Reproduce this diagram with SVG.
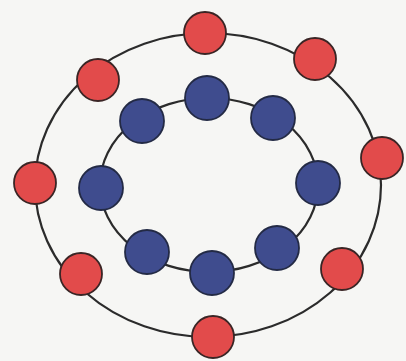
<svg xmlns="http://www.w3.org/2000/svg" width="406" height="361" viewBox="0 0 406 361">
<style>
.ring{fill:none;stroke:#2b2b2b;stroke-width:2.2}
.red{fill:#e24b4b;stroke:#3a2525;stroke-width:1.8}
.blue{fill:#3f4c8e;stroke:#232a45;stroke-width:1.8}
</style>
<rect width="406" height="361" fill="#f6f6f4"/>
<g id="connectors">
<ellipse class="ring" cx="208" cy="185" rx="173" ry="152"/>
<ellipse class="ring" cx="209" cy="185" rx="109" ry="87"/>
</g>
<g id="r1"><circle class="red" cx="205" cy="33" r="21"/></g>
<g id="r2"><circle class="red" cx="315" cy="59" r="21"/></g>
<g id="r3"><circle class="red" cx="382" cy="158" r="21"/></g>
<g id="r4"><circle class="red" cx="342" cy="269" r="21"/></g>
<g id="r5"><circle class="red" cx="213" cy="337" r="21"/></g>
<g id="r6"><circle class="red" cx="81" cy="274" r="21"/></g>
<g id="r7"><circle class="red" cx="35" cy="183" r="21"/></g>
<g id="r8"><circle class="red" cx="98" cy="80" r="21"/></g>
<g id="b1"><circle class="blue" cx="207" cy="98" r="22"/></g>
<g id="b2"><circle class="blue" cx="273" cy="118" r="22"/></g>
<g id="b3"><circle class="blue" cx="318" cy="183" r="22"/></g>
<g id="b4"><circle class="blue" cx="277" cy="248" r="22"/></g>
<g id="b5"><circle class="blue" cx="212" cy="273" r="22"/></g>
<g id="b6"><circle class="blue" cx="147" cy="252" r="22"/></g>
<g id="b7"><circle class="blue" cx="101" cy="188" r="22"/></g>
<g id="b8"><circle class="blue" cx="142" cy="121" r="22"/></g>
</svg>
